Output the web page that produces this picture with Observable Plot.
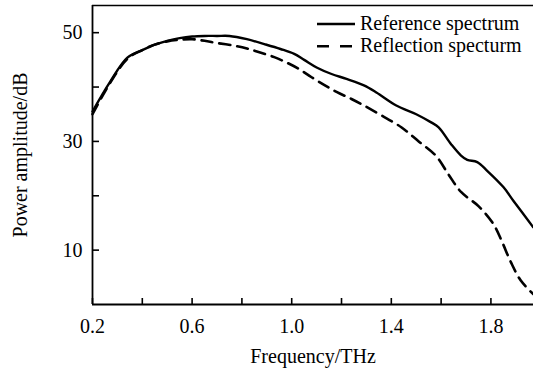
<!DOCTYPE html>
<html>
<head>
<meta charset="utf-8">
<script src="https://cdn.jsdelivr.net/npm/d3@7"></script>
<script src="https://cdn.jsdelivr.net/npm/@observablehq/plot@0.6"></script>
<style>
html, body { margin: 0; padding: 0; background: #fff; }
#chart { position: relative; width: 533px; height: 372px; font-family: "Liberation Serif", "Times New Roman", serif; }
#chart svg text { font-family: "Liberation Serif", "Times New Roman", serif; }
#legend { position: absolute; left: 0; top: 0; pointer-events: none; }
</style>
</head>
<body>
<div id="chart"></div>
<script>
// Reference spectrum (solid)
const refFreq  = [0.20, 0.27, 0.34, 0.40, 0.45, 0.50, 0.55, 0.60, 0.65, 0.70, 0.75, 0.82, 0.89, 0.955, 1.01, 1.05, 1.10, 1.16, 1.22, 1.29, 1.34, 1.42, 1.50, 1.56, 1.59, 1.64, 1.68, 1.705, 1.745, 1.785, 1.85, 1.89, 1.97];
const refPower = [35.5, 40.9, 45.4, 46.8, 47.8, 48.5, 49.0, 49.3, 49.4, 49.4, 49.4, 48.8, 47.9, 47.0, 46.1, 45.0, 43.6, 42.4, 41.5, 40.3, 39.0, 36.6, 35.0, 33.5, 32.6, 29.5, 27.4, 26.6, 26.2, 24.6, 21.6, 19.1, 14.2];
// Reflection spectrum (dashed)
const reflFreq  = [0.20, 0.27, 0.34, 0.40, 0.45, 0.50, 0.55, 0.60, 0.65, 0.70, 0.77, 0.82, 0.87, 0.93, 0.98, 1.03, 1.08, 1.13, 1.18, 1.24, 1.29, 1.36, 1.44, 1.51, 1.58, 1.63, 1.68, 1.75, 1.81, 1.845, 1.88, 1.92, 1.97];
const reflPower = [35.0, 40.7, 45.2, 46.8, 47.8, 48.4, 48.7, 48.8, 48.5, 48.1, 47.6, 47.1, 46.4, 45.5, 44.5, 43.3, 41.8, 40.4, 39.1, 37.8, 36.6, 34.8, 32.6, 30.0, 27.3, 23.9, 20.7, 18.1, 14.8, 11.5, 7.8, 4.4, 1.9];

const seriesNames = ["Reference spectrum", "Reflection specturm"];
const xTicks  = [0.2, 0.4, 0.6, 0.8, 1.0, 1.2, 1.4, 1.6, 1.8];
const xLabels = [0.2, 0.6, 1.0, 1.4, 1.8];
const yTicks  = [10, 20, 30, 40, 50];
const yLabels = [10, 30, 50];
const xDomain = [0.2, 1.971];
const yDomain = [0, 55];

const ref  = refFreq.map((f, i) => ({f, p: refPower[i]}));
const refl = reflFreq.map((f, i) => ({f, p: reflPower[i]}));

const FONT = '"Liberation Serif", "Times New Roman", serif';
const W = 533, H = 372;
const plot = Plot.plot({
  width: W, height: H,
  marginLeft: 92, marginRight: 0, marginTop: 5, marginBottom: 68,
  x: {domain: xDomain},
  y: {domain: yDomain},
  style: {fontFamily: FONT, fontSize: "20px", color: "black", background: "white", overflow: "visible"},
  marks: [
    Plot.axisX(xTicks, {tickSize: -6, tickFormat: () => "", label: null, strokeWidth: 1.6}),
    Plot.axisX(xLabels, {tickSize: 0, tickPadding: 14, tickFormat: d => d.toFixed(1), fontFamily: FONT, fontSize: 20, fontVariant: "normal", label: null}),
    Plot.axisX(xLabels, {tickSize: 0, tickFormat: () => "", fontFamily: FONT, fontSize: 20, label: "Frequency/THz", labelAnchor: "center", labelOffset: 58, labelArrow: "none", dx: -7}),
    Plot.axisY(yTicks, {tickSize: -7, tickFormat: () => "", label: null, strokeWidth: 1.6}),
    Plot.axisY(yLabels, {tickSize: 0, tickPadding: 10, tickFormat: d => String(d), fontFamily: FONT, fontSize: 20, fontVariant: "normal", label: null}),
    Plot.axisY(yLabels, {tickSize: 0, tickFormat: () => "", fontFamily: FONT, fontSize: 20, label: "Power amplitude/dB", labelAnchor: "center", labelOffset: 80, labelArrow: "none", dy: 5}),
    Plot.ruleY([yDomain[0]], {stroke: "black", strokeWidth: 1.8}),
    Plot.ruleY([yDomain[1]], {stroke: "black", strokeWidth: 1.6}),
    Plot.ruleX([xDomain[0]], {stroke: "black", strokeWidth: 1.8}),
    Plot.line(ref,  {x: "f", y: "p", stroke: "black", strokeWidth: 2.4, curve: "catmull-rom"}),
    Plot.line(refl, {x: "f", y: "p", stroke: "black", strokeWidth: 2.6, strokeDasharray: "11,7", curve: "catmull-rom"})
  ]
});
document.getElementById("chart").appendChild(plot);

// legend
const ns = "http://www.w3.org/2000/svg";
const lg = document.createElementNS(ns, "svg");
lg.setAttribute("id", "legend");
lg.setAttribute("width", W);
lg.setAttribute("height", 62);
const rows = [{y: 24, dash: null}, {y: 46.3, dash: "12,11"}];
rows.forEach((r, i) => {
  const ln = document.createElementNS(ns, "line");
  ln.setAttribute("x1", 317); ln.setAttribute("x2", i === 0 ? 355 : 352);
  ln.setAttribute("y1", r.y); ln.setAttribute("y2", r.y);
  ln.setAttribute("stroke", "black"); ln.setAttribute("stroke-width", 2.4);
  if (r.dash) ln.setAttribute("stroke-dasharray", r.dash);
  lg.appendChild(ln);
  const t = document.createElementNS(ns, "text");
  t.setAttribute("x", 360); t.setAttribute("y", r.y + 6);
  t.setAttribute("font-family", FONT);
  t.setAttribute("font-size", "20px");
  t.setAttribute("fill", "black");
  t.textContent = seriesNames[i];
  lg.appendChild(t);
});
document.getElementById("chart").appendChild(lg);
</script>
</body>
</html>
